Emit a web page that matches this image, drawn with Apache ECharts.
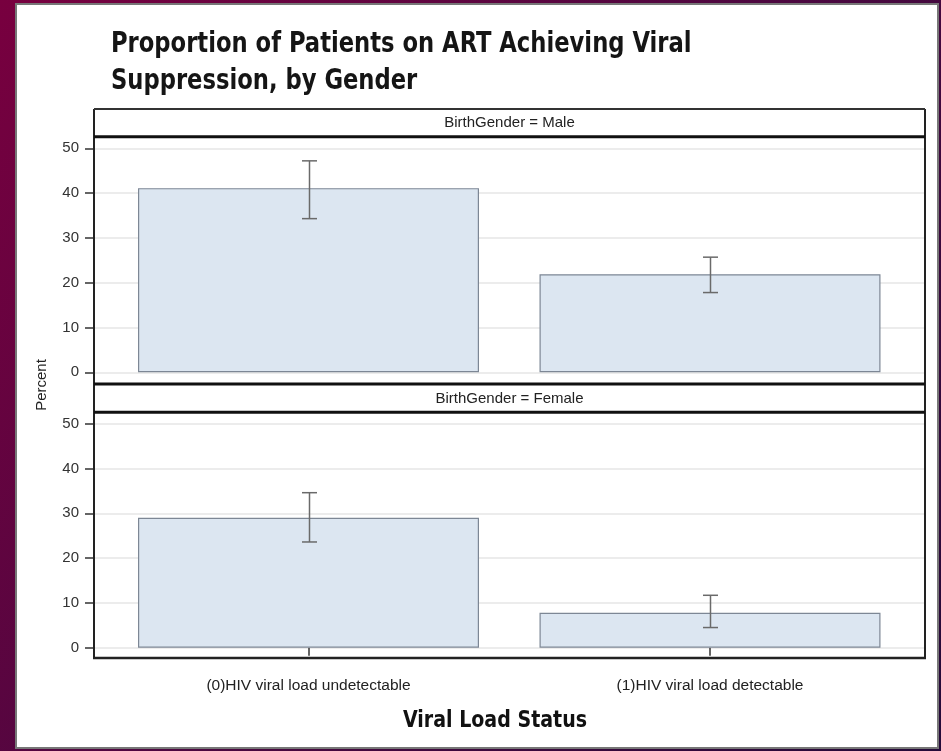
<!DOCTYPE html>
<html>
<head>
<meta charset="utf-8">
<script src="https://cdn.jsdelivr.net/npm/echarts@6/dist/echarts.min.js"></script>
<style>
html,body{margin:0;padding:0;}
#chart{width:941px;height:751px;}
</style>
</head>
<body>
<div id="chart"></div>
<script>
// ---- data ----
var categories = ['(0)HIV viral load undetectable', '(1)HIV viral load detectable'];
var maleValues = [41.1, 21.9];
var maleLower = [34.3, 17.8];
var maleUpper = [47.2, 25.7];
var femaleValues = [29.0, 7.8];
var femaleLower = [23.6, 4.5];
var femaleUpper = [34.6, 11.7];
var panelLabels = ['BirthGender = Male', 'BirthGender = Female'];
var yTicks = [0, 10, 20, 30, 40, 50];
var titleLines = ['Proportion of Patients on ART Achieving Viral', 'Suppression, by Gender'];
var xTitle = 'Viral Load Status';
var yTitle = 'Percent';

// ---- layout ----
var FL = 94, FR = 925;           // frame left/right
var BL = 107.75, BR = 910.75;    // bar grid left/right
var top1 = 148.3, top2 = 423.7, ph = 224;
var FONT = '"Liberation Sans", Arial, sans-serif';
var TFONT = '"DejaVu Sans Condensed", "DejaVu Sans", sans-serif';

function errData(lo, hi) {
  return lo.map(function (l, i) { return [i, l, hi[i]]; });
}
function errRender(params, api) {
  var x = api.value(0), lo = api.value(1), hi = api.value(2);
  var p1 = api.coord([x, hi]);
  var p2 = api.coord([x, lo]);
  var cx = Math.round(p1[0]) + 0.5;
  var hw = 7.5;
  var st = { stroke: '#6a6a6a', lineWidth: 1.5 };
  return {
    type: 'group',
    children: [
      { type: 'line', shape: { x1: cx, y1: p1[1], x2: cx, y2: p2[1] }, style: st },
      { type: 'line', shape: { x1: cx - hw, y1: p1[1], x2: cx + hw, y2: p1[1] }, style: st },
      { type: 'line', shape: { x1: cx - hw, y1: p2[1], x2: cx + hw, y2: p2[1] }, style: st }
    ]
  };
}

var grids = [
  { left: FL, right: 941 - FR, top: top1, height: ph },
  { left: BL, right: 941 - BR, top: top1, height: ph },
  { left: FL, right: 941 - FR, top: top2, height: ph },
  { left: BL, right: 941 - BR, top: top2, height: ph }
];

function yA(gi, show) {
  return {
    type: 'value', gridIndex: gi, min: yTicks[0], max: yTicks[yTicks.length - 1], interval: 10,
    show: true,
    axisLine: { show: false },
    axisTick: { show: show, length: 9, lineStyle: { color: '#333', width: 1.5 } },
    axisLabel: { show: show, margin: 15, fontSize: 15, color: '#333', fontFamily: FONT },
    splitLine: { show: show, lineStyle: { color: '#e6e6e6', width: 1.5 } }
  };
}

var option = {
  animation: false,
  backgroundColor: new echarts.graphic.LinearGradient(0, 0, 1, 1, [
    { offset: 0, color: '#78003f' },
    { offset: 0.5, color: '#4d0740' },
    { offset: 1, color: '#240a38' }
  ]),
  grid: grids,
  xAxis: [
    { type: 'value', gridIndex: 0, show: false, min: 0, max: 1 },
    { type: 'category', gridIndex: 1, data: categories, show: true, axisLine: { show: false }, axisTick: { show: false }, axisLabel: { show: false }, splitLine: { show: false } },
    { type: 'value', gridIndex: 2, show: false, min: 0, max: 1 },
    { type: 'category', gridIndex: 3, data: categories, position: 'bottom', offset: 10.3,
      axisLine: { show: false },
      axisTick: { show: true, alignWithLabel: true, length: 8, lineStyle: { color: '#333', width: 1.5 } },
      axisLabel: { show: true, margin: 20, fontSize: 15.5, color: '#222', fontFamily: FONT },
      splitLine: { show: false } }
  ],
  yAxis: [yA(0, true), yA(1, false), yA(2, true), yA(3, false)],
  series: [
    { type: 'bar', xAxisIndex: 1, yAxisIndex: 1, data: maleValues, barWidth: 341,
      itemStyle: { color: '#dce6f1', borderColor: '#7d8795', borderWidth: 1.2 }, z: 2 },
    { type: 'custom', xAxisIndex: 1, yAxisIndex: 1, data: errData(maleLower, maleUpper), renderItem: errRender, z: 5 },
    { type: 'bar', xAxisIndex: 3, yAxisIndex: 3, data: femaleValues, barWidth: 341,
      itemStyle: { color: '#dce6f1', borderColor: '#7d8795', borderWidth: 1.2 }, z: 2 },
    { type: 'custom', xAxisIndex: 3, yAxisIndex: 3, data: errData(femaleLower, femaleUpper), renderItem: errRender, z: 5 }
  ],
  graphic: [
    { type: 'rect', z: -10, shape: { x: 16, y: 4, width: 922, height: 744 }, style: { fill: '#ffffff', stroke: '#777', lineWidth: 2 } },
    // title
    { type: 'text', z: 100, x: 111, y: 45, scaleX: 0.9, style: { text: titleLines[0], x: 0, y: 0, font: 'bold 28px ' + TFONT, fill: '#151515', align: 'left', verticalAlign: 'middle' } },
    { type: 'text', z: 100, x: 111, y: 82, scaleX: 0.9, style: { text: titleLines[1], x: 0, y: 0, font: 'bold 28px ' + TFONT, fill: '#151515', align: 'left', verticalAlign: 'middle' } },
    // frame
    { type: 'line', z: 100, shape: { x1: FL, y1: 109, x2: FL, y2: 658 }, style: { stroke: '#222', lineWidth: 2 } },
    { type: 'line', z: 100, shape: { x1: FR, y1: 109, x2: FR, y2: 658 }, style: { stroke: '#222', lineWidth: 2 } },
    { type: 'line', z: 100, shape: { x1: FL, y1: 109, x2: FR, y2: 109 }, style: { stroke: '#333', lineWidth: 2 } },
    { type: 'line', z: 100, shape: { x1: FL, y1: 136.7, x2: FR, y2: 136.7 }, style: { stroke: '#111', lineWidth: 3 } },
    { type: 'line', z: 100, shape: { x1: FL, y1: 384, x2: FR, y2: 384 }, style: { stroke: '#111', lineWidth: 3 } },
    { type: 'line', z: 100, shape: { x1: FL, y1: 412.3, x2: FR, y2: 412.3 }, style: { stroke: '#111', lineWidth: 3 } },
    { type: 'line', z: 100, shape: { x1: FL - 1, y1: 658, x2: FR + 1, y2: 658 }, style: { stroke: '#222', lineWidth: 2.5 } },
    // strip labels
    { type: 'text', z: 100, x: (FL + FR) / 2, y: 123, style: { text: panelLabels[0], font: '15px ' + FONT, fill: '#222', align: 'center', verticalAlign: 'middle' } },
    { type: 'text', z: 100, x: (FL + FR) / 2, y: 398.5, style: { text: panelLabels[1], font: '15px ' + FONT, fill: '#222', align: 'center', verticalAlign: 'middle' } },
    // axis titles
    { type: 'text', z: 100, x: 42, y: 385, rotation: Math.PI / 2, style: { text: yTitle, font: '15px ' + FONT, fill: '#222', align: 'center', verticalAlign: 'middle' } },
    { type: 'text', z: 100, x: 495, y: 721, scaleX: 0.92, style: { text: xTitle, x: 0, y: 0, font: 'bold 23px ' + TFONT, fill: '#111', align: 'center', verticalAlign: 'middle' } }
  ]
};

var chart = echarts.init(document.getElementById('chart'), null, { renderer: 'canvas' });
chart.setOption(option);
</script>
</body>
</html>
